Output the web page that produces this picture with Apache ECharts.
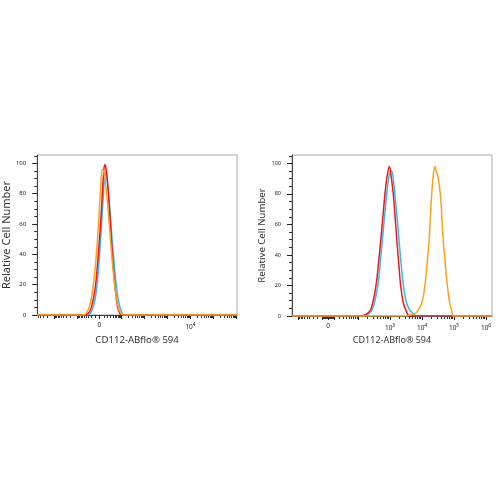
<!DOCTYPE html>
<html>
<head>
<meta charset="utf-8">
<script src="https://cdn.jsdelivr.net/npm/echarts@6/dist/echarts.min.js"></script>
<style>
  html, body { margin: 0; padding: 0; background: #fff; }
  #chart { width: 500px; height: 500px; }
</style>
</head>
<body>
<div id="chart"></div>
<script>
// x values are transformed channel units (biexponential display, 1 unit = 1 decade)
// left panel: histogram points [channel, relative count]
const leftRed = [[-2.7,0],[-0.6,0],[-0.5,1],[-0.4,3],[-0.3,8],[-0.18,18],[-0.07,36],[0.04,58],[0.12,78],[0.18,93],[0.23,99],[0.28,97],[0.35,88],[0.46,64],[0.57,38],[0.68,18],[0.78,6],[0.88,1],[0.95,0],[5.97,0]];
const leftCyan = [[-2.7,0],[-0.5,0],[-0.4,1],[-0.3,4],[-0.18,11],[-0.07,25],[0.04,47],[0.15,74],[0.22,90],[0.27,94],[0.33,90],[0.43,74],[0.54,52],[0.65,32],[0.76,16],[0.86,7],[0.96,2],[1.06,0],[5.97,0]];
const leftOrange = [[-2.7,0],[-0.7,0],[-0.6,1],[-0.5,3],[-0.39,8],[-0.28,18],[-0.17,33],[-0.06,55],[0.04,80],[0.13,96],[0.2,94],[0.3,82],[0.41,63],[0.52,42],[0.63,24],[0.74,11],[0.84,4],[0.94,1],[1.04,0],[5.97,0]];

// right panel
const rightRed = [[-1.125,0],[1.0,0],[1.2,1],[1.35,5],[1.5,20],[1.58,35],[1.65,50],[1.72,66],[1.78,80],[1.85,92],[1.92,98],[1.97,92],[2.04,80],[2.1,64],[2.15,50],[2.22,32],[2.27,20],[2.35,9],[2.45,3],[2.56,0],[5.125,0]];
const rightCyan = [[-1.125,0],[1.05,0],[1.25,1],[1.4,5],[1.55,19],[1.63,34],[1.7,50],[1.78,68],[1.85,83],[1.92,93],[1.99,95],[2.05,88],[2.1,78],[2.17,62],[2.23,47],[2.3,31],[2.37,18],[2.45,9],[2.55,4],[2.65,2],[2.77,0],[5.125,0]];
const rightOrange = [[-1.125,0],[2.45,0],[2.6,1],[2.75,2],[2.88,6],[2.97,12],[3.03,20],[3.1,35],[3.16,50],[3.2,65],[3.24,80],[3.29,92],[3.34,98],[3.38,95],[3.43,92],[3.48,85],[3.52,78],[3.56,64],[3.6,50],[3.66,35],[3.73,20],[3.8,9],[3.87,3],[3.93,0],[5.125,0]];

// tick labels (fluorescence intensity)
const leftXLabels = [0, 1e4];
const rightXLabels = [0, 1e3, 1e4, 1e5, 1e6];
const yLabels = [0, 20, 40, 60, 80, 100];
const yMinor = [5, 10, 15, 25, 30, 35, 45, 50, 55, 65, 70, 75, 85, 90, 95, 105];

const colors = { red: '#f0161c', cyan: '#37b9e6', orange: '#f9a31c' };
const FONT = 'Noto Sans';

// biexponential-like transform: intensity -> display decades
const transform = (v, c) => Math.asinh(v / c) / Math.LN10;
const invT = (u, c) => c * Math.sinh(u * Math.LN10);

function makeTicks(c, min, max) {
  let major = [0], minor = [];
  for (let k = 0; k <= 6; k++) {
    for (let m = 1; m <= 9; m++) {
      [1, -1].forEach(s => {
        let u = transform(s * m * Math.pow(10, k), c);
        if (u <= min || u >= max) return;
        if (m === 1 && k >= 1) major.push(u); else minor.push(u);
      });
    }
  }
  return {major, minor};
}

function supLabel(u, c) {
  let v = Math.round(invT(u, c));
  if (Math.abs(v) < 1) return '0';
  let e = Math.round(Math.log10(v));
  return '10{s|' + e + '}';
}

const panels = [
  {c: 2.24, min: -2.70, max: 5.97, grid: {left: 35, right: 263, top: 155, bottom: 185},
   labels: leftXLabels, data: [leftCyan, leftRed, leftOrange], yFont: 6, nameFont: 11, nameGap: 21, xNameFont: 9.6},
  {c: 23, min: -1.125, max: 5.125, grid: {left: 292, right: 8, top: 155, bottom: 184},
   labels: rightXLabels, data: [rightCyan, rightRed, rightOrange], yFont: 5.5, nameFont: 9.6, nameGap: 21, xNameFont: 9}
];

let grid = [], xAxis = [], yAxis = [], series = [];
panels.forEach((p, i) => {
  grid.push(Object.assign({show: true, borderColor: '#aaaaaa', borderWidth: 1, containLabel: false}, p.grid));
  let t = makeTicks(p.c, p.min, p.max);
  let labelPos = p.labels.map(v => transform(v, p.c));
  xAxis.push({
    type: 'value', gridIndex: i, position: 'bottom', min: p.min, max: p.max,
    name: 'CD112-ABflo® 594', nameLocation: 'middle', nameGap: 20,
    nameTextStyle: {fontFamily: FONT, fontSize: p.xNameFont, color: '#333'},
    axisLine: {show: true, onZero: false, lineStyle: {color: '#444', width: 1}},
    axisTick: {show: true, length: 4, customValues: t.major, lineStyle: {color: '#222'}},
    axisLabel: {show: true, customValues: labelPos, margin: 7,
      fontFamily: FONT, fontSize: 6.5, color: '#222',
      formatter: u => supLabel(u, p.c),
      rich: {s: {fontSize: 5, verticalAlign: 'top', padding: [0, 0, 5, 0], fontFamily: FONT, color: '#222'}}},
    splitLine: {show: false}
  });
  xAxis.push({
    type: 'value', gridIndex: i, position: 'bottom', min: p.min, max: p.max,
    axisLine: {show: false, onZero: false},
    axisTick: {show: true, length: 3, customValues: t.minor, lineStyle: {color: '#333'}},
    axisLabel: {show: false}, splitLine: {show: false}
  });
  yAxis.push({
    type: 'value', gridIndex: i, position: 'left', min: 0, max: 105.5,
    name: 'Relative Cell Number', nameLocation: 'middle', nameGap: p.nameGap,
    nameTextStyle: {fontFamily: FONT, fontSize: p.nameFont, color: '#333'},
    axisLine: {show: true, onZero: false, lineStyle: {color: '#444'}},
    axisTick: {show: true, length: 5, customValues: yLabels, lineStyle: {color: '#222'}},
    axisLabel: {show: true, customValues: yLabels, margin: 11, fontFamily: FONT, fontSize: p.yFont, color: '#222'},
    splitLine: {show: false}
  });
  yAxis.push({
    type: 'value', gridIndex: i, position: 'left', min: 0, max: 105.5,
    axisLine: {show: false, onZero: false},
    axisTick: {show: true, length: 3, customValues: yMinor, lineStyle: {color: '#333'}},
    axisLabel: {show: false}, splitLine: {show: false}
  });
  [colors.cyan, colors.red, colors.orange].forEach((col, j) => {
    series.push({
      type: 'line', xAxisIndex: i * 2, yAxisIndex: i * 2, data: p.data[j],
      smooth: 0.4, showSymbol: false, silent: true,
      lineStyle: {color: col, width: 1.5}
    });
  });
});

const chart = echarts.init(document.getElementById('chart'), null, {renderer: 'canvas'});
chart.setOption({animation: false, backgroundColor: '#fff', grid, xAxis, yAxis, series});
</script>
</body>
</html>
